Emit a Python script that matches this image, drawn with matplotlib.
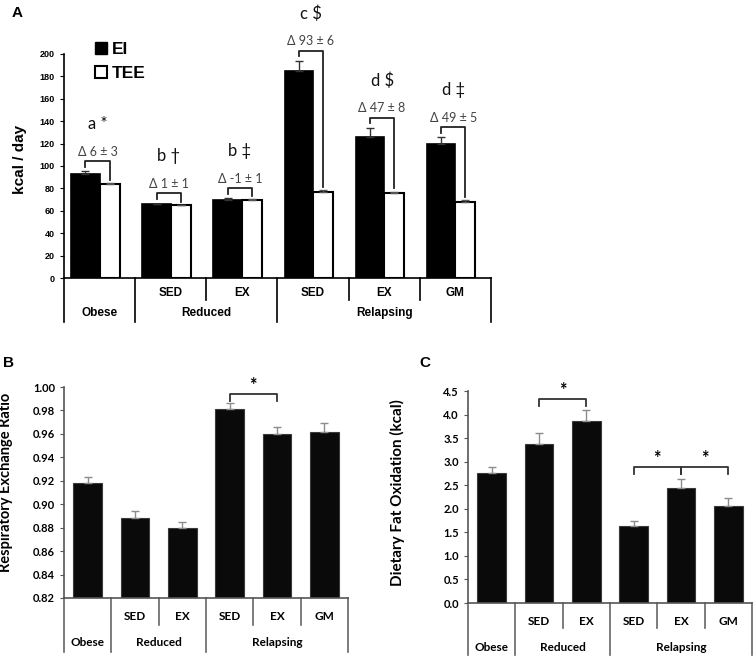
import numpy as np
import matplotlib
matplotlib.use('Agg')
import matplotlib.pyplot as plt
from matplotlib.patches import Patch

# ---- data ----
groups = ['Obese', 'Reduced', 'Relapsing']
group_sizes = [1, 2, 3]
sub_labels = ['', 'SED', 'EX', 'SED', 'EX', 'GM']

ei = [93, 66, 70, 185, 126, 120]
ei_err = [2.5, 0.5, 1.0, 9.0, 8.0, 5.5]
tee = [84, 65, 70, 77, 76, 68]
tee_err = [0.8, 0.3, 0.5, 1.5, 1.0, 1.5]
delta_labels = ['\u0394 6 \u00b1 3', '\u0394 1 \u00b1 1', '\u0394 -1 \u00b1 1',
                '\u0394 93 \u00b1 6', '\u0394 47 \u00b1 8', '\u0394 49 \u00b1 5']
sig_labels = ['a *', 'b \u2020', 'b \u2021', 'c $', 'd $', 'd \u2021']

rer = [0.9178, 0.888, 0.880, 0.9813, 0.9595, 0.9612]
rer_err = [0.0054, 0.006, 0.0046, 0.0048, 0.0068, 0.0085]
rer_pairs = [(3, 4)]

fat = [2.75, 3.38, 3.86, 1.644, 2.44, 2.06]
fat_err = [0.127, 0.22, 0.23, 0.096, 0.19, 0.16]
fat_pairs = [(1, 2), (3, 4), (4, 5)]

ARIAL = ['Liberation Sans', 'DejaVu Sans']
CAL = ['Lato', 'DejaVu Sans']

W, H = 755, 659
fig = plt.figure(figsize=(W / 100, H / 100), dpi=100)


def px_axes(l, t, r, b):
    return fig.add_axes([l / W, 1 - b / H, (r - l) / W, (b - t) / H])


def draw_table(ax, sub_y, grp_y, full_y, short_y, font, size, color):
    tr = ax.get_xaxis_transform()
    n = len(sub_labels)
    edges = np.cumsum([0] + group_sizes) - 0.5
    for x in edges:
        ax.plot([x, x], [0, full_y], transform=tr, clip_on=False, color=color, lw=1.2)
    start = 0
    for g, s in zip(groups, group_sizes):
        ax.text(start + (s - 1) / 2, grp_y, g, transform=tr, ha='center', va='center',
                family=font, fontsize=size, fontweight='bold')
        for k in range(start, start + s - 1):
            ax.plot([k + 0.5, k + 0.5], [0, short_y], transform=tr, clip_on=False,
                    color=color, lw=1.2)
        start += s
    for i in range(n):
        if sub_labels[i]:
            ax.text(i, sub_y, sub_labels[i], transform=tr, ha='center', va='center',
                    family=font, fontsize=size, fontweight='bold')
    ax.set_xlim(-0.5, n - 0.5)
    ax.set_xticks([])


def bracket(ax, x1, x2, top, y1, y2, color='#222222', lw=1.3):
    ax.plot([x1, x1, x2, x2], [y1, top, top, y2], color=color, lw=lw, clip_on=False)


def style_axes(ax, color, font, size):
    for s in ['top', 'right']:
        ax.spines[s].set_visible(False)
    ax.spines['left'].set_color(color)
    ax.spines['bottom'].set_color(color)
    ax.spines['left'].set_linewidth(1.2)
    ax.spines['bottom'].set_linewidth(1.2)
    ax.tick_params(axis='y', direction='out', length=3, color=color)
    for lab in ax.get_yticklabels():
        lab.set_family(font)
        lab.set_fontsize(size)
        lab.set_fontweight('bold')


# ---- Panel A ----
axA = px_axes(64, 54, 491, 278)
x = np.arange(len(ei))
axA.bar(x, ei, width=-0.4, align='edge', color='black', edgecolor='black', lw=1.2, label='EI')
axA.bar(x, tee, width=0.28, align='edge', color='white', edgecolor='black', lw=1.5, label='TEE')
axA.errorbar(x - 0.2, ei, yerr=[np.zeros(len(ei)), ei_err], fmt='none', ecolor='#333333',
             elinewidth=1, capsize=3)
axA.errorbar(x + 0.14, tee, yerr=[np.zeros(len(tee)), tee_err], fmt='none', ecolor='#555555',
             elinewidth=1, capsize=3)
axA.set_ylim(0, 200)
axA.set_yticks(np.arange(0, 201, 20))
style_axes(axA, 'black', ARIAL, 6.5)
axA.set_ylabel('kcal / day', family=ARIAL, fontsize=11, fontweight='bold')
axA.yaxis.set_label_coords(-0.087, 0.53)
draw_table(axA, -0.067, -0.156, -0.196, -0.098, ARIAL, 8.5, 'black')

for i in range(len(ei)):
    top = ei[i] + ei_err[i] + 9
    bracket(axA, i - 0.2, i + 0.14, top, top - 5, tee[i] + tee_err[i] + 3)
    axA.text(i - 0.03, top + 3, delta_labels[i], ha='center', va='bottom', family=CAL,
             fontsize=9, color='#444444', clip_on=False)
    axA.text(i - 0.03, top + 33, sig_labels[i], ha='center', va='center', family=CAL,
             fontsize=12, color='#111111', clip_on=False)

axA.legend(handles=[Patch(facecolor='black', edgecolor='black'),
                    Patch(facecolor='white', edgecolor='black', lw=1.5)],
           labels=['EI', 'TEE'], loc='upper left', bbox_to_anchor=(0.035, 1.125),
           frameon=False, prop={'family': ARIAL, 'size': 12.5, 'weight': 'bold'},
           handlelength=0.7, handleheight=0.7, handletextpad=0.3, labelspacing=0.55)
fig.text(17 / W, 1 - 13 / H, 'A', family=ARIAL, fontsize=11, fontweight='bold',
         ha='center', va='center')

# ---- Panel B ----
axB = px_axes(64, 387, 348, 598)
axB.bar(x, rer, width=0.6, color='#0a0a0a', edgecolor='#3a3a3a', lw=0.8)
axB.errorbar(x, rer, yerr=[np.zeros(len(rer)), rer_err], fmt='none', ecolor='#8c8c8c',
             elinewidth=1, capsize=3)
axB.set_ylim(0.82, 1.0)
axB.set_yticks(np.arange(0.82, 1.001, 0.02))
axB.set_yticklabels(['%.2f' % v for v in np.arange(0.82, 1.001, 0.02)])
style_axes(axB, '#555555', CAL, 8)
axB.set_ylabel('Respiratory Exchange Ratio', family=CAL, fontsize=10.5, fontweight='bold')
axB.yaxis.set_label_coords(-0.18, 0.55)
draw_table(axB, -0.09, -0.213, -0.256, -0.128, CAL, 8.5, '#666666')
for a, b in rer_pairs:
    top = max(rer[a] + rer_err[a], rer[b] + rer_err[b]) + 0.0077
    bracket(axB, a, b, top, top - 0.0055, top - 0.0055, color='#333333')
    axB.text((a + b) / 2, top + 0.0005, '*', ha='center', va='bottom', family=CAL,
             fontsize=13, fontweight='bold', clip_on=False)
fig.text(9 / W, 1 - 363 / H, 'B', family=ARIAL, fontsize=11, fontweight='bold',
         ha='center', va='center')

# ---- Panel C ----
axC = px_axes(468, 391, 752, 603)
axC.bar(x, fat, width=0.6, color='#0a0a0a', edgecolor='#3a3a3a', lw=0.8)
axC.errorbar(x, fat, yerr=[np.zeros(len(fat)), fat_err], fmt='none', ecolor='#8c8c8c',
             elinewidth=1, capsize=3)
axC.set_ylim(0, 4.5)
axC.set_yticks(np.arange(0, 4.51, 0.5))
axC.set_yticklabels(['%.1f' % v for v in np.arange(0, 4.51, 0.5)])
style_axes(axC, '#555555', CAL, 8)
axC.set_ylabel('Dietary Fat Oxidation (kcal)', family=CAL, fontsize=11, fontweight='bold')
axC.yaxis.set_label_coords(-0.222, 0.52)
draw_table(axC, -0.085, -0.212, -0.245, -0.118, CAL, 8.5, '#666666')
for a, b in fat_pairs:
    top = max(fat[a] + fat_err[a], fat[b] + fat_err[b]) + 0.25
    bracket(axC, a, b, top, top - 0.15, top - 0.15, color='#333333')
    axC.text((a + b) / 2, top + 0.0, '*', ha='center', va='bottom', family=CAL,
             fontsize=13, fontweight='bold', clip_on=False)
fig.text(425 / W, 1 - 363 / H, 'C', family=ARIAL, fontsize=11, fontweight='bold',
         ha='center', va='center')

fig.savefig('out.png', dpi=100)
